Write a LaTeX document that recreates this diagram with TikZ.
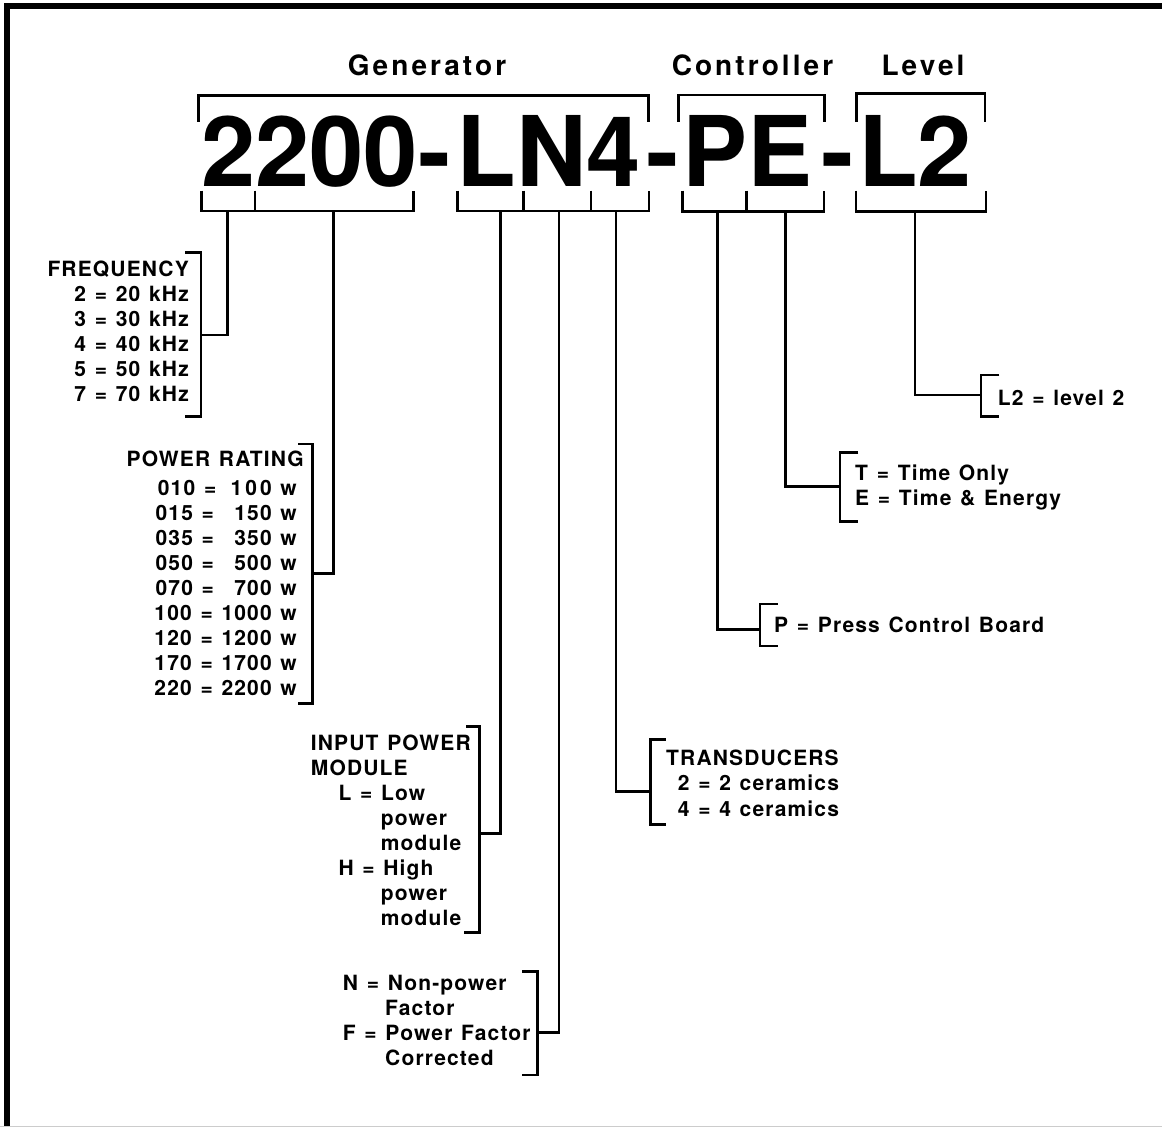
\documentclass[tikz,border=0pt]{standalone}
\usepackage{fontspec}
\setmainfont{TeX Gyre Heros}
\newfontfamily\lstfnt[LetterSpace=5.5,WordSpace=1.25]{TeX Gyre Heros}
\newfontfamily\hdrfnt[LetterSpace=11]{TeX Gyre Heros}
\newfontfamily\bigfnt{TeX Gyre Heros}
\begin{document}
\begin{tikzpicture}[x=1pt,y=-1pt,
  br/.style={line width=2.6pt},
  con/.style={line width=2.6pt},
  lst/.style={font=\lstfnt\bfseries\fontsize{21}{25}\selectfont, inner sep=0pt, anchor=base west},
  lstr/.style={lst, anchor=base east},
  hdr/.style={font=\hdrfnt\bfseries\fontsize{28}{32}\selectfont, inner sep=0pt, anchor=base},
  code/.style={font=\bigfnt\bfseries\fontsize{97.5}{100}\selectfont, inner sep=0pt, anchor=base west}]
\useasboundingbox (0,0) rectangle (1162,1127);
\fill[white] (0,0) rectangle (1162,1127);
% frame
\draw[line width=5.7pt] (7.2,1127) -- (7.2,6.2) -- (1162,6.2);
\draw[gray!40, line width=1pt] (0,1126) -- (1162,1126);

% headers
\node[hdr] (hgen) at (427,75.7) {Generator};
\node[hdr] (hcon) at (752.5,75.7) {Controller};
\node[hdr] (hlev) at (923,75.7) {Level};

% big code
\node[code] (c2200) at (201,186.7) {2200};
\node[code] (cd1) at (418.7,186.7) {-};
\node[code] (cLN4) at (456.3,186.7) {LN4};
\node[code] (cd2) at (646.7,186.7) {-};
\node[code] (cPE) at (682.6,186.7) {PE};
\node[code] (cd3) at (821,186.7) {-};
\node[code] (cL2) at (858,186.7) {L2};

% top brackets
\draw[br] (198.3,121.7) |- (648.3,95.5) -- (648.3,121.7);
\draw[br] (678.3,121.7) |- (824.3,95) -- (824.3,121.7);
\draw[br] (856.7,121.7) |- (985,93.5) -- (985,121.7);

% bottom brackets
\draw[br] (201.7,190.7) |- (413.3,211) -- (413.3,190.7);
\draw[br] (255,190.7) -- (255,211);
\draw[br] (457.3,190.7) |- (649,211) -- (649,190.7);
\draw[br] (523.3,190.7) -- (523.3,211);
\draw[br] (591,190.7) -- (591,211);
\draw[br] (682.7,190.7) |- (824,211.3) -- (824,190.7);
\draw[br] (746.7,190.7) -- (746.7,211.3);
\draw[br] (856,190.7) |- (986,211.3) -- (986,190.7);

% side brackets
\draw[br] (185,252.3) -- (201,252.3) -- (201,416.7) -- (185,416.7);
\draw[br] (298,444) -- (312.3,444) -- (312.3,703.3) -- (298,703.3);
\draw[br] (466,726.7) -- (479.3,726.7) -- (479.3,932.7) -- (464,932.7);
\draw[br] (522,971.7) -- (537.3,971.7) -- (537.3,1075) -- (522,1075);
\draw[br] (665.7,739.3) -- (650.7,739.3) -- (650.7,824.3) -- (665.7,824.3);
\draw[br] (777.7,604) -- (760,604) -- (760,646) -- (777.7,646);
\draw[br] (858.3,452.7) -- (840,452.7) -- (840,521.7) -- (858.3,521.7);
\draw[br] (999.3,375) -- (981,375) -- (981,416.7) -- (999.3,416.7);

% connector end points
\coordinate (fqA) at (227.3,211);   \coordinate (fqB) at (201,335);
\coordinate (prA) at (333.3,211);   \coordinate (prB) at (312.3,573.3);
\coordinate (ipA) at (500.7,211);   \coordinate (ipB) at (479.3,833.3);
\coordinate (nfA) at (559,211);     \coordinate (nfB) at (537.3,1032.7);
\coordinate (trA) at (616,211);     \coordinate (trB) at (650.7,791.7);
\coordinate (pA)  at (717.3,211.3); \coordinate (pB)  at (760,629.3);
\coordinate (teA) at (785.7,211.3); \coordinate (teB) at (840,486.7);
\coordinate (lvA) at (915,211.3);   \coordinate (lvB) at (981,395);

\draw[con] (fqA) |- (fqB);
\draw[con] (prA) |- (prB);
\draw[con] (ipA) |- (ipB);
\draw[con] (nfA) |- (nfB);
\draw[con] (trA) |- (trB);
\draw[con] (pA) |- (pB);
\draw[con] (teA) |- (teB);
\draw[con] (lvA) |- (lvB);

% frequency
\node[lstr] (fq0) at (189,276) {FREQUENCY};
\node[lstr] (fq1) at (189,301.7) {2 = 20 kHz};
\node[lstr] (fq2) at (189,326.7) {3 = 30 kHz};
\node[lstr] (fq3) at (189,351.7) {4 = 40 kHz};
\node[lstr] (fq4) at (189,376.7) {5 = 50 kHz};
\node[lstr] (fq5) at (189,401.7) {7 = 70 kHz};

% power rating
\node[lstr] (pr0) at (304,466.7) {POWER RATING};
\node[lstr] (pr1) at (297,495) {010 = \phantom{1}\kern-6pt1\kern3pt0\kern3pt0 w};
\node[lstr] (pr2) at (297,520) {015 = \phantom{1}150 w};
\node[lstr] (pr3) at (297,545) {035 = \phantom{1}350 w};
\node[lstr] (pr4) at (297,570) {050 = \phantom{1}500 w};
\node[lstr] (pr5) at (297,595) {070 = \phantom{1}700 w};
\node[lstr] (pr6) at (297,620) {100 = 1000 w};
\node[lstr] (pr7) at (297,645) {120 = 1200 w};
\node[lstr] (pr8) at (297,670) {170 = 1700 w};
\node[lstr] (pr9) at (297,695) {220 = 2200 w};

% input power module
\node[lst] (ip0) at (310.7,750.7) {INPUT POWER};
\node[lst] (ip1) at (310.7,775.7) {MODULE};
\node[lst] (ip2) at (338.3,800.7) {L = Low};
\node[lst] (ip3) at (380.7,825.7) {power};
\node[lst] (ip4) at (380.7,850.7) {module};
\node[lst] (ip5) at (338.3,875.7) {H = High};
\node[lst] (ip6) at (380.7,900.7) {power};
\node[lst] (ip7) at (380.7,925.7) {module};

% power factor
\node[lst] (nf0) at (342.7,990) {N = Non-power};
\node[lst] (nf1) at (385,1015) {Factor};
\node[lst] (nf2) at (342.7,1040) {F = Power Factor};
\node[lst] (nf3) at (385,1065) {Corrected};

% transducers
\node[lst] (tr0) at (666,765.7) {TRANSDUCERS};
\node[lst] (tr1) at (677.7,790.7) {2 = 2 ceramics};
\node[lst] (tr2) at (677.7,816) {4 = 4 ceramics};

% controller options
\node[lst] (p0) at (774,632.7) {P = Press Control Board};
\node[lst] (te0) at (855,480.7) {T = Time Only};
\node[lst] (te1) at (855,505.7) {E = Time \& Energy};

% level
\node[lst] (lv0) at (997.7,405) {L2 = level 2};
\end{tikzpicture}
\end{document}
